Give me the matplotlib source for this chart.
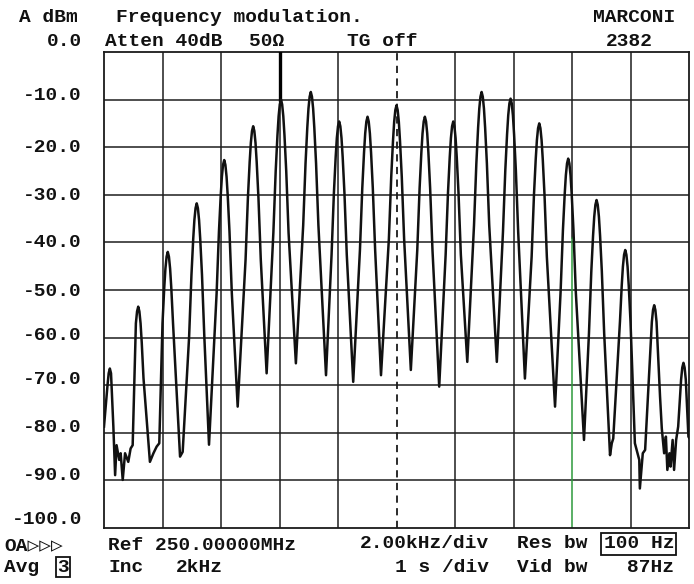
import matplotlib
matplotlib.use("Agg")
import matplotlib.pyplot as plt

# ---------------- data ----------------
y_tick_values = [0, -10, -20, -30, -40, -50, -60, -70, -80, -90, -100]
y_tick_labels = ["0.0", "-10.0", "-20.0", "-30.0", "-40.0", "-50.0",
                 "-60.0", "-70.0", "-80.0", "-90.0", "-100.0"]
x_grid_khz = [-10, -8, -6, -4, -2, 2, 4, 6, 8, 10]

# FM sideband peaks (offset from 250 MHz carrier, kHz) and their levels (dBm)
peak_khz = [-9.80, -8.83, -7.82, -6.83, -5.89, -4.90, -3.95, -2.93, -1.96, -0.99,
            0.00, 0.97, 1.94, 2.91, 3.90, 4.88, 5.87, 6.84, 7.82, 8.81, 9.81]
peak_dbm = [-66.5, -53.5, -42.0, -31.8, -22.7, -15.6, -10.0, -8.4, -14.6, -13.6,
            -11.2, -13.6, -14.6, -8.4, -9.8, -15.0, -22.4, -31.1, -41.6, -53.2, -65.3]

# measured shape of the rounded lobe tip: distance from the peak centre (kHz)
# versus drop below the peak (dB)
lobe_offset_khz = [0.04, 0.08, 0.12, 0.18, 0.26]
lobe_drop_db = [1.0, 3.5, 7.5, 15.0, 28.0]

# trace segments between peaks (kHz, dBm), including the noise floor wiggles
gap_khz = [
    [-10.00],
    [-9.68, -9.62, -9.57, -9.48, -9.43, -9.36, -9.28, -9.17, -9.09, -9.02],
    [-8.43, -8.31, -8.20, -8.11],
    [-7.40, -7.31],
    [-6.41],
    [-5.43],
    [-4.44],
    [-3.44],
    [-2.41],
    [-1.48],
    [-0.53],
    [0.49],
    [1.46],
    [2.42],
    [3.43],
    [4.39],
    [5.42],
    [6.41],
    [7.30, 7.36, 7.41],
    [8.15, 8.30, 8.32, 8.42, 8.50],
    [9.01, 9.07, 9.15, 9.21, 9.26, 9.33, 9.37, 9.44, 9.49, 9.56, 9.63],
    [9.98, 10.00],
]
gap_dbm = [
    [-78.7],
    [-78.7, -88.9, -82.6, -85.7, -84.3, -89.9, -84.3, -86.1, -83.3, -82.6],
    [-86.1, -84.3, -82.9, -82.2],
    [-85.0, -84.0],
    [-82.5],
    [-74.5],
    [-67.5],
    [-65.4],
    [-67.9],
    [-69.3],
    [-67.9],
    [-66.8],
    [-70.3],
    [-65.1],
    [-65.1],
    [-68.6],
    [-74.5],
    [-81.5],
    [-84.7, -82.2, -81.2],
    [-82.2, -85.7, -91.7, -84.3, -83.6],
    [-72.4, -79.1, -84.3, -80.8, -87.8, -84.3, -87.1, -81.5, -87.8, -81.5, -78.7],
    [-80.8, -81.0],
]

marker_khz = -4.0         # bold marker line at the top of the screen
marker_bottom_dbm = -10.0
green_line_khz = 6
green_line_top = -39

# ---------------- build trace ----------------
def lobe_side(pk_x, pk_y, nb_x, nb_y, side):
    """tip vertices of a lobe toward the neighbouring trace point"""
    pts = []
    dist = abs(nb_x - pk_x)
    depth = pk_y - nb_y
    for off, drop in zip(lobe_offset_khz, lobe_drop_db):
        if off < dist - 0.08 and drop < depth - 4 and drop / depth < off / dist + 0.02:
            pts.append((pk_x + side * off, pk_y - drop))
    return pts

trace_x, trace_y = [], []
for i in range(len(peak_khz)):
    trace_x += gap_khz[i]
    trace_y += gap_dbm[i]
    left = lobe_side(peak_khz[i], peak_dbm[i], gap_khz[i][-1], gap_dbm[i][-1], -1)
    right = lobe_side(peak_khz[i], peak_dbm[i], gap_khz[i + 1][0], gap_dbm[i + 1][0], 1)
    for px_, py_ in reversed(left):
        trace_x.append(px_)
        trace_y.append(py_)
    trace_x.append(peak_khz[i])
    trace_y.append(peak_dbm[i])
    for px_, py_ in right:
        trace_x.append(px_)
        trace_y.append(py_)
trace_x += gap_khz[-1]
trace_y += gap_dbm[-1]

# ---------------- figure ----------------
W, H = 694, 584
fig = plt.figure(figsize=(W / 100, H / 100), dpi=100)
fig.patch.set_facecolor("white")

def fx(px):
    return px / W

def fy(py):
    return 1 - py / H

ax = fig.add_axes([fx(104), fy(528), (689 - 104) / W, (528 - 52) / H])
ax.set_xlim(-10, 10)
ax.set_ylim(-100, 0)
ax.set_xticks([])
ax.set_yticks([])
for s in ax.spines.values():
    s.set_linewidth(1.3)
    s.set_color("#1a1a1a")

grid_col = "#1e1e1e"
for v in y_tick_values[1:-1]:
    ax.axhline(v, color=grid_col, lw=1.1, zorder=1)
for v in x_grid_khz[1:-1]:
    if v == green_line_khz:
        ax.plot([v, v], [0, green_line_top], color=grid_col, lw=1.1, zorder=1)
        ax.plot([v, v], [green_line_top, -100], color="#2e9a3c", lw=1.1, zorder=1)
    else:
        ax.axvline(v, color=grid_col, lw=1.1, zorder=1)
ax.axvline(0, color="#1a1a1a", lw=1.3, ls=(0, (4, 3)), zorder=1)

# bold marker line
ax.plot([marker_khz, marker_khz], [0, marker_bottom_dbm], color="black", lw=2.4, zorder=3)

ax.plot(trace_x, trace_y, color="#111111", lw=1.8, solid_joinstyle="round", zorder=4)

# ---------------- text ----------------
mono = ["Liberation Mono", "DejaVu Sans Mono", "DejaVu Sans"]
fs = 14
tk = dict(family=mono, fontsize=fs, color="#111111", weight="bold")

# y labels (right aligned left of the grid)
label_center_px = [41, 95, 148, 196, 243, 291, 335, 380, 427, 475, 520]
for lab, cy in zip(y_tick_labels, label_center_px):
    fig.text(fx(82), fy(cy), lab, ha="right", va="center", **tk)

# header rows
fig.text(fx(19), fy(17), "A dBm", ha="left", va="center", **tk)
fig.text(fx(116), fy(17), "Frequency modulation.", ha="left", va="center", **tk)
fig.text(fx(675), fy(17), "MARCONI", ha="right", va="center", **tk)
fig.text(fx(105), fy(41), "Atten 40dB", ha="left", va="center", **tk)
fig.text(fx(249), fy(41), "50Ω", ha="left", va="center", **tk)
fig.text(fx(347), fy(41), "TG off", ha="left", va="center", **tk)
fig.text(fx(653), fy(41), "2382", ha="right", va="center", **tk)

# footer rows
fig.text(fx(4), fy(546), "OA▷▷▷", ha="left", va="center", **tk)
fig.text(fx(108), fy(545), "Ref 250.00000MHz", ha="left", va="center", **tk)
fig.text(fx(489), fy(544), "2.00kHz/div", ha="right", va="center", **tk)
fig.text(fx(517), fy(544), "Res bw", ha="left", va="center", **tk)
fig.text(fx(674), fy(544), "100 Hz", ha="right", va="center",
         bbox=dict(boxstyle="square,pad=0.12", fc="none", ec="#111111", lw=1.3), **tk)
fig.text(fx(4), fy(568), "Avg", ha="left", va="center", **tk)
fig.text(fx(63), fy(567), "3", ha="center", va="center",
         bbox=dict(boxstyle="square,pad=0.08", fc="none", ec="#111111", lw=1.3), **tk)
fig.text(fx(108), fy(568), "Inc", ha="left", va="center", **tk)
fig.text(fx(176), fy(568), "2kHz", ha="left", va="center", **tk)
fig.text(fx(489), fy(567), "1 s /div", ha="right", va="center", **tk)
fig.text(fx(517), fy(567), "Vid bw", ha="left", va="center", **tk)
fig.text(fx(674), fy(567), "87Hz", ha="right", va="center", **tk)

fig.savefig("out.png", dpi=100, facecolor="white")
